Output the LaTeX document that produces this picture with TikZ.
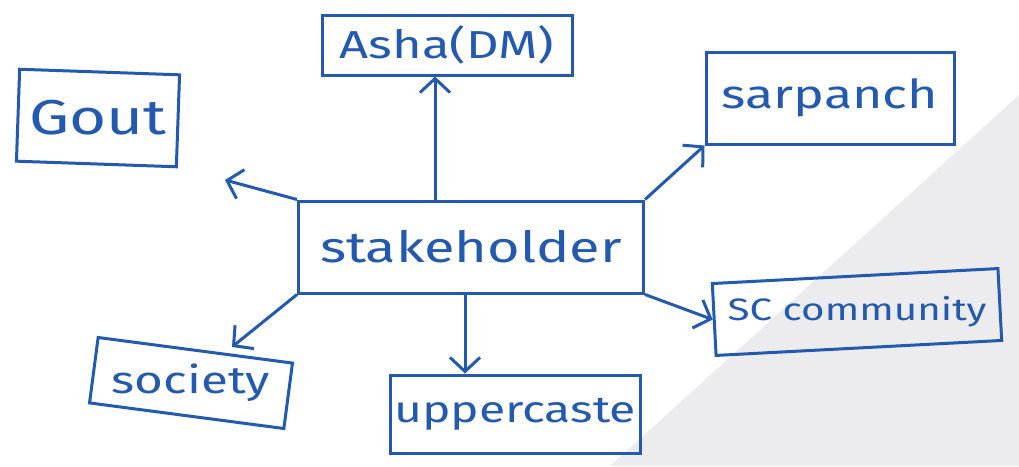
\documentclass[tikz,border=0pt]{standalone}
\usepackage{fontspec}
\setmainfont[FakeStretch=1.3]{Fira Sans}
\usetikzlibrary{arrows.meta,calc}
\definecolor{ink}{RGB}{35,90,175}
\definecolor{wm}{RGB}{236,236,238}
\begin{document}
\begin{tikzpicture}[x=1pt,y=-1pt,
  box/.style={draw=ink,line width=3pt,inner sep=0pt},
  lbl/.style={text=ink,inner sep=0pt},
  conn/.style={draw=ink,line width=3pt,-{Straight Barb[length=14pt,width=30pt,line width=3pt]}}]
\useasboundingbox (0,0) rectangle (1019,466);
\fill[white] (0,0) rectangle (1019,466);
\fill[wm] (1019,95) -- (1019,466) -- (610,466) -- cycle;
% boxes
\node[box,minimum width=250pt,minimum height=60pt] (asha) at (447,45) {};
\node[box,minimum width=160pt,minimum height=92pt,rotate=-2] (gout) at (98,118) {};
\node[box,minimum width=248pt,minimum height=92pt] (sarp) at (830,98) {};
\node[box,minimum width=345pt,minimum height=92pt] (stake) at (471,247) {};
\node[box,minimum width=286pt,minimum height=72pt,rotate=3] (sc) at (857,312) {};
\node[box,minimum width=196pt,minimum height=66pt,rotate=-7.5] (soc) at (191,383) {};
\node[box,minimum width=250pt,minimum height=78pt] (upper) at (515,414) {};
% labels
\node[lbl,font=\fontsize{39}{40}\selectfont] (ashat) at (asha) {Asha(DM)};
\node[lbl,font=\fontsize{49}{50}\selectfont] (goutt) at (gout) {Gout};
\node[lbl,font=\fontsize{40}{41}\selectfont] (sarpt) at (sarp) {sarpanch};
\node[lbl,font=\fontsize{43}{44}\selectfont] (staket) at (stake) {stakeholder};
\node[lbl,font=\fontsize{31}{32}\selectfont] (sct) at (sc) {SC community};
\node[lbl,font=\fontsize{38}{39}\selectfont] (soct) at (soc) {society};
\node[lbl,font=\fontsize{37}{38}\selectfont] (uppert) at (upper) {uppercaste};
% connectors
\coordinate (gend) at (225,180);
\coordinate (socin) at (232,347);
\draw[conn] (stake.north -| 435,0) -- (asha.south -| 435,0);
\draw[conn] (stake.north west) -- (gend);
\draw[conn] (stake.north east) -- (sarp.south west);
\draw[conn] (stake.south east) -- (sc.west);
\draw[conn] (stake.south -| 465,0) -- (upper.north -| 465,0);
\draw[conn] (stake.south west) -- (socin);
\end{tikzpicture}
\end{document}
